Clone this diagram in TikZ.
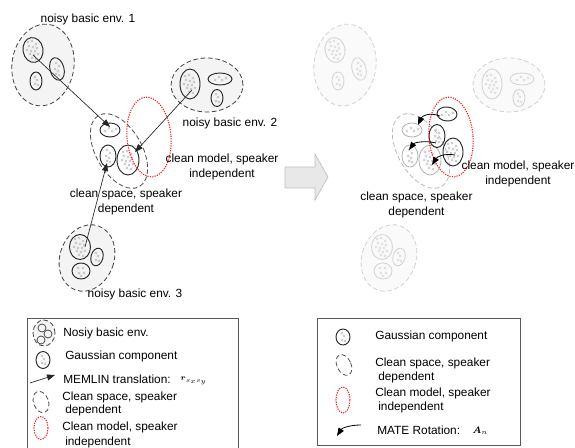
\documentclass[tikz,border=0pt]{standalone}
\usepackage{amsmath}
\usepackage{fontspec}
\setmainfont{Liberation Sans}
\usetikzlibrary{shapes.geometric,arrows.meta}

\begin{document}
\begin{tikzpicture}[x=0.75pt,y=-0.75pt,
  every node/.style={font=\fontsize{8.9}{11}\selectfont},
  ell/.style 2 args={ellipse, inner sep=0pt, minimum width=#1*0.75pt, minimum height=#2*0.75pt},
  envn/.style={draw=black!75, line width=0.6pt, dash pattern=on 3.5pt off 2pt, fill=gray!9},
  envf/.style={draw=gray!35, line width=0.6pt, dash pattern=on 3.5pt off 2pt, fill=gray!4},
  gauss/.style={draw=black!85, line width=0.7pt},
  gaussf/.style={draw=gray!35, line width=0.6pt},
  gaussm/.style={draw=gray!60, line width=0.6pt},
  cspace/.style={draw=black!70, line width=0.6pt, dash pattern=on 3.5pt off 2pt},
  cspacef/.style={draw=gray!55, line width=0.6pt, dash pattern=on 3.5pt off 2pt},
  cmodel/.style={draw=red!90, line width=0.8pt, dash pattern=on 0.9pt off 0.9pt},
  trans/.style={draw=black!85, line width=0.5pt, -{Triangle[length=6pt,width=4.5pt]}},
  rotarr/.style={draw=black, line width=0.6pt, -{Triangle[length=6pt,width=4.5pt]}},
  lbl/.style={align=center, inner sep=0pt},
  leg/.style={anchor=west, inner sep=0pt},
  frame/.style={draw=black!65, line width=0.6pt},
  % small crosses standing for the samples of a Gaussian
  xcross/.pic={\draw[line width=0.35pt] (-1.3,-1.3)--(1.3,1.3) (-1.3,1.3)--(1.3,-1.3);},
  clbig/.pic={\foreach \p in {(-5,-8),(-1,-9),(3,-6),(-4,-4),(0,-3),(4,-2),(-6,0),(-2,1),(2,1),(-3,4),(1,5),(5,4),(-1,8),(3,9)}{\pic at \p {xcross};}},
  clmid/.pic={\foreach \p in {(-1,-6),(2,-3),(-2,0),(1,2),(-1,5),(2,6)}{\pic at \p {xcross};}},
  clhor/.pic={\foreach \p in {(-5,1),(-1,-2),(2,1),(6,-1)}{\pic at \p {xcross};}},
  clsm/.pic={\foreach \p in {(-1,-4),(1,-1),(-1,3),(2,4)}{\pic at \p {xcross};}},
  clround/.pic={\foreach \p in {(-3,-3),(2,-3),(-2,2),(3,2),(0,5)}{\pic at \p {xcross};}},
]
\useasboundingbox (0,0) rectangle (575,448);

% ---------------- left: MEMLIN translation ----------------
% noisy basic environments
\node[envn, ell={62}{82}, rotate=-8] (env1) at (43,65) {};
\node[gauss, ell={20}{25}, rotate=10] (g1a) at (33,50) {};
\node[gauss, ell={14}{23}, rotate=15] (g1b) at (57,69) {};
\node[gauss, ell={12}{18}] (g1c) at (36,81) {};
\pic[gray!50] at (g1a) {clbig};
\pic[gray!50] at (g1b) {clmid};
\pic[gray!50] at (g1c) {clsm};

\node[envn, ell={72}{54}] (env2) at (207,85) {};
\node[gauss, ell={20}{30}] (g2a) at (190,84) {};
\node[gauss, ell={24}{12}] (g2b) at (220,79) {};
\node[gauss, ell={12}{17}] (g2c) at (217,98) {};
\pic[gray!50] at (g2a) {clbig};
\pic[gray!50] at (g2b) {clhor};
\pic[gray!50] at (g2c) {clsm};

\node[envn, ell={54}{68}, rotate=-20] (env3) at (87,258) {};
\node[gauss, ell={21}{25}] (g3a) at (80,247) {};
\node[gauss, ell={12}{18}, rotate=-15] (g3b) at (97,257) {};
\node[gauss, ell={18}{16}] (g3c) at (81,271) {};
\pic[gray!50] at (g3a) {clbig};
\pic[gray!50] at (g3b) {clsm};
\pic[gray!50] at (g3c) {clround};

% clean space and clean model
\node[cspace, ell={46}{82}, rotate=30] (cs) at (119,151) {};
\node[gauss, ell={20}{14}] (c1) at (110,130) {};
\node[gauss, ell={16}{22}] (c2) at (108,156) {};
\node[gauss, ell={22}{30}] (c3) at (128,160) {};
\pic[gray!50] at (c1) {clhor};
\pic[gray!50] at (c2) {clmid};
\pic[gray!50] at (c3) {clbig};
\node[cmodel, ell={44}{80}, rotate=5] (cm) at (149,137) {};

% translations
\coordinate (t1s) at (33,55);  \coordinate (t1e) at (110,127);
\coordinate (t2s) at (192,90); \coordinate (t2e) at (135,152);
\coordinate (t3s) at (85,247); \coordinate (t3e) at (107,163);
\draw[trans] (t1s) -- (t1e);
\draw[trans] (t2s) -- (t2e);
\draw[trans] (t3s) -- (t3e);

\node[lbl] (lab1) at (88,19) {noisy basic env. 1};
\node[lbl] (lab2) at (230,123) {noisy basic env. 2};
\node[lbl] (lab3) at (135,294) {noisy basic env. 3};
\node[lbl] (labm) at (222,167) {clean model, speaker\\independent};
\node[lbl] (labs) at (126,202) {clean space, speaker\\dependent};

% ---------------- transition arrow ----------------
\draw[draw=gray!50, fill=gray!18, line width=0.5pt]
  (285,167) -- (315,167) -- (315,154) -- (328,177) -- (315,200) -- (315,188) -- (285,188) -- cycle;

% ---------------- right: MATE rotation ----------------
\node[envf, ell={62}{82}, rotate=-8] (fenv1) at (345,65) {};
\node[gaussf, ell={20}{25}, rotate=10] (fg1a) at (335,50) {};
\node[gaussf, ell={14}{23}, rotate=15] (fg1b) at (359,69) {};
\node[gaussf, ell={12}{18}] (fg1c) at (338,81) {};
\pic[gray!28] at (fg1a) {clbig};
\pic[gray!28] at (fg1b) {clmid};
\pic[gray!28] at (fg1c) {clsm};

\node[envf, ell={72}{54}] (fenv2) at (509,85) {};
\node[gaussf, ell={20}{30}] (fg2a) at (492,84) {};
\node[gaussf, ell={24}{12}] (fg2b) at (522,79) {};
\node[gaussf, ell={12}{17}] (fg2c) at (519,98) {};
\pic[gray!28] at (fg2a) {clbig};
\pic[gray!28] at (fg2b) {clhor};
\pic[gray!28] at (fg2c) {clsm};

\node[envf, ell={54}{68}, rotate=-20] (fenv3) at (389,258) {};
\node[gaussf, ell={21}{25}] (fg3a) at (382,247) {};
\node[gaussf, ell={12}{18}, rotate=-15] (fg3b) at (399,257) {};
\node[gaussf, ell={18}{16}] (fg3c) at (383,271) {};
\pic[gray!28] at (fg3a) {clbig};
\pic[gray!28] at (fg3b) {clsm};
\pic[gray!28] at (fg3c) {clround};

\node[cspacef, ell={46}{82}, rotate=30] (rcs) at (421,151) {};
\node[gaussm, ell={20}{14}] (rc1) at (412,130) {};
\node[gaussm, ell={16}{22}] (rc2) at (410,156) {};
\node[gaussm, ell={22}{30}] (rc3) at (430,160) {};
\pic[gray!45] at (rc1) {clhor};
\pic[gray!45] at (rc2) {clmid};
\pic[gray!45] at (rc3) {clbig};

\node[gauss, ell={20}{14}, rotate=-5] (r1) at (447,114) {};
\node[gauss, ell={16}{23}] (r2) at (437,136) {};
\node[gauss, ell={20}{28}] (r3) at (453,152) {};
\pic[gray!50] at (r1) {clhor};
\pic[gray!50] at (r2) {clmid};
\pic[gray!50] at (r3) {clbig};
\node[cmodel, ell={44}{80}, rotate=5] (rcm) at (451,137) {};

% rotations
\coordinate (a1s) at (440,116); \coordinate (a1e) at (418,125);
\coordinate (a2s) at (436,143); \coordinate (a2e) at (409,150);
\coordinate (a3s) at (455,155); \coordinate (a3e) at (432,165);
\draw[rotarr] (a1s) .. controls (429,112) and (422,116) .. (a1e);
\draw[rotarr] (a2s) .. controls (424,140) and (414,143) .. (a2e);
\draw[rotarr] (a3s) .. controls (444,153) and (437,157) .. (a3e);

\node[lbl] (rlabm) at (518,174) {clean model, speaker\\independent};
\node[lbl] (rlabs) at (416.5,205) {clean space, speaker\\dependent};

% ---------------- legends ----------------
\draw[frame] (27,318) rectangle (238,470);
\node[envn, ell={22}{26}] (ki1) at (44,333) {};
\node[draw=black!80, line width=0.5pt, circle, inner sep=0pt, minimum size=6pt] (ki1a) at (42,328) {};
\node[draw=black!80, line width=0.5pt, circle, inner sep=0pt, minimum size=6pt] (ki1b) at (48,334) {};
\node[draw=black!80, line width=0.5pt, circle, inner sep=0pt, minimum size=6pt] (ki1c) at (41,340) {};
\node[leg] (kt1) at (63,333) {Nosiy basic env.};

\node[gauss, ell={14}{17}] (ki2) at (43,360) {};
\pic[gray!50] at (ki2) {clsm};
\node[leg] (kt2) at (65,356) {Gaussian component};

\coordinate (ki3s) at (30,383); \coordinate (ki3e) at (55,375);
\draw[trans] (ki3s) -- (ki3e);
\node[leg] (kt3) at (63,379) {MEMLIN translation:};
\node[leg] (kt3m) at (180,381) {\fontsize{6.5}{8}\selectfont$\boldsymbol{r}_{\scriptscriptstyle s_x s_y}$};

\node[cspace, ell={15}{22}, rotate=20] (ki4) at (41,402) {};
\node[leg] (kt4) at (62,397) {Clean space, speaker};
\node[leg] (kt4b) at (65,410) {dependent};

\node[cmodel, ell={14}{23}] (ki5) at (41,428) {};
\node[leg] (kt5) at (62,427) {Clean model, speaker};
\node[leg] (kt5b) at (65,442) {independent};

\draw[frame] (317,318) rectangle (520,445);
\node[gauss, ell={14}{16}] (kr1) at (343,337) {};
\pic[gray!50] at (kr1) {clsm};
\node[leg] (krt1) at (375,336) {Gaussian component};

\node[cspace, ell={14}{22}, rotate=25] (kr2) at (344,365) {};
\node[leg] (krt2) at (375,363) {Clean space, speaker};
\node[leg] (krt2b) at (378,377) {dependent};

\node[cmodel, ell={14}{26}] (kr3) at (343,400) {};
\node[leg] (krt3) at (375,393) {Clean model, speaker};
\node[leg] (krt3b) at (378,407) {independent};

\coordinate (kr4s) at (361,425); \coordinate (kr4e) at (337,436);
\draw[rotarr] (kr4s) .. controls (350,425) and (342,428) .. (kr4e);
\node[leg] (krt4) at (377,430) {MATE Rotation:};
\node[leg] (krt4m) at (472,431) {\fontsize{7}{8}\selectfont$\boldsymbol{A}_{\scriptscriptstyle n}$};
\end{tikzpicture}
\end{document}
